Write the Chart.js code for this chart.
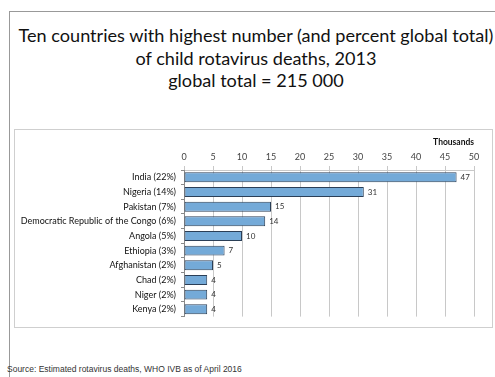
<!DOCTYPE html>
<html>
<head>
<meta charset="utf-8">
<script src="https://cdn.jsdelivr.net/npm/chart.js@4"></script>
<style>
  html, body { margin: 0; padding: 0; background: #fff; }
  body { width: 495px; height: 377px; position: relative; overflow: hidden; font-family: Lato, "Open Sans", sans-serif; }
  .frame { position: absolute; left: 9px; top: 11px; width: 490px; height: 380px; border-left: 1px solid #999; border-top: 1px solid #999; }
  .title { position: absolute; left: 11px; top: 24px; width: 490px; text-align: center; font-size: 18.1px; line-height: 22.5px; color: #111; white-space: nowrap; }
  .box { position: absolute; left: 14px; top: 129px; width: 477px; height: 197px; border: 1px solid #cfcfcf; }
  .source { position: absolute; left: 7px; top: 364px; font-family: "Liberation Sans", Arial, sans-serif; font-size: 8.5px; color: #333; }
</style>
</head>
<body>
<div class="frame"></div>
<div class="title">Ten countries with highest number (and percent global total)<br>of child rotavirus deaths, 2013<br>global total = 215 000</div>
<div class="box"><canvas id="myChart" width="477" height="197"></canvas></div>
<div class="source">Source: Estimated rotavirus deaths, WHO IVB as of April 2016</div>
<script>
// categorias e valores (milhares de mortes)
const countries = ['India (22%)', 'Nigeria (14%)', 'Pakistan (7%)', 'Democratic Republic of the Congo (6%)', 'Angola (5%)', 'Ethiopia (3%)', 'Afghanistan (2%)', 'Chad (2%)', 'Niger (2%)', 'Kenya (2%)'];
const deaths = [47, 31, 15, 14, 10, 7, 5, 4, 4, 4];
const shownLabels = ['47', '31', '15', '14', '10', '7', '5', '4', '4', '4'];
const xTicks = [0, 5, 10, 15, 20, 25, 30, 35, 40, 45, 50];

const labelFont = { family: 'Lato, "Open Sans", sans-serif', size: 9 };

// plugin simples para os rótulos ao lado das barras
const valueLabels = {
  id: 'valueLabels',
  afterDatasetsDraw(chart) {
    const ctx = chart.ctx;
    const meta = chart.getDatasetMeta(0);
    ctx.save();
    ctx.font = '8px Lato, "Open Sans", sans-serif';
    ctx.fillStyle = '#333';
    ctx.textBaseline = 'middle';
    meta.data.forEach((bar, i) => {
      ctx.fillText(shownLabels[i], bar.x + 4, bar.y);
    });
    ctx.restore();
  }
};

const ctx = document.getElementById('myChart').getContext('2d');
new Chart(ctx, {
  type: 'bar',
  data: {
    labels: countries,
    datasets: [{
      data: deaths,
      backgroundColor: '#74aad8',
      borderColor: '#2b3f57',
      borderWidth: 1,
      borderSkipped: false,
      barPercentage: 0.68,
      categoryPercentage: 1
    }]
  },
  options: {
    indexAxis: 'y',
    responsive: false,
    animation: false,
    layout: { padding: { left: 0, right: 18, top: 7, bottom: 0 } },
    plugins: {
      legend: { display: false },
      tooltip: { enabled: false }
    },
    scales: {
      x: {
        position: 'top',
        min: 0,
        max: 50,
        afterBuildTicks: (scale) => { scale.ticks = xTicks.map(v => ({ value: v })); },
        ticks: { color: '#444', font: labelFont, padding: 4 },
        grid: { color: '#c8c8c8', drawTicks: true, tickLength: 4 },
        border: { color: '#c8c8c8' },
        title: {
          display: true,
          text: 'Thousands',
          align: 'end',
          color: '#111',
          font: { family: 'Lato, "Open Sans", sans-serif', size: 8.5, weight: 'bold' },
          padding: { top: 0, bottom: 0 }
        }
      },
      y: {
        afterFit: (scale) => { scale.width = 169; },
        ticks: { color: '#111', font: labelFont, padding: 5 },
        grid: { display: true, drawOnChartArea: false, drawTicks: true, tickLength: 3, offset: true, color: '#8a8a8a' },
        border: { color: '#8a8a8a' }
      }
    }
  },
  plugins: [valueLabels]
});
</script>
</body>
</html>
